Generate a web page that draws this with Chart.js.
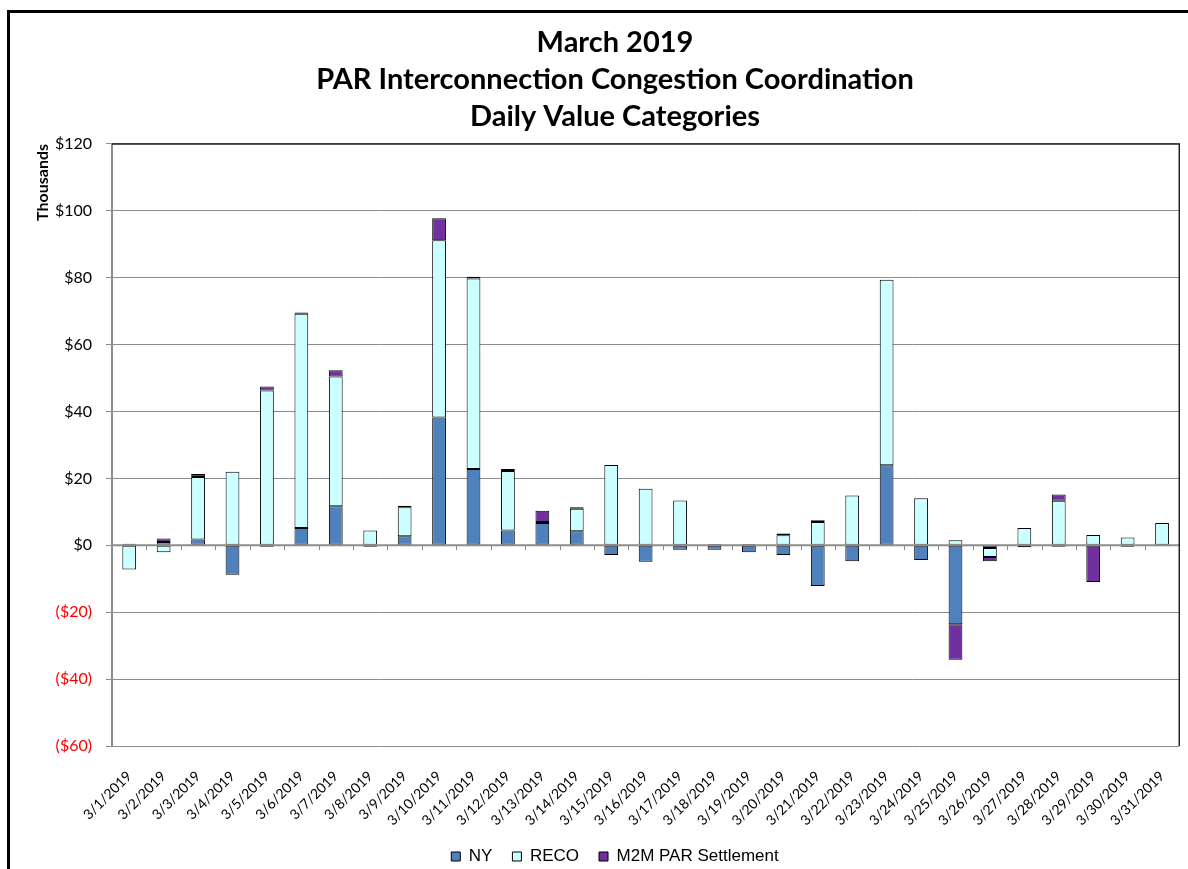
<!DOCTYPE html>
<html>
<head>
<meta charset="utf-8">
<script src="https://cdn.jsdelivr.net/npm/chart.js@4/dist/chart.umd.min.js"></script>
<style>
  html, body { margin: 0; padding: 0; background: #fff; overflow: hidden; }
  #frame { position: absolute; left: 7px; top: 10px; width: 1300px; height: 1000px; border: 3px solid #000; }
  #wrap { position: absolute; left: 0; top: 0; width: 1188px; height: 869px; }
</style>
</head>
<body>
<div id="frame"></div>
<div id="wrap"><canvas id="chart"></canvas></div>
<script>
// Valeurs journalières (en milliers de $)
const days = ['3/1/2019', '3/2/2019', '3/3/2019', '3/4/2019', '3/5/2019', '3/6/2019', '3/7/2019', '3/8/2019',
  '3/9/2019', '3/10/2019', '3/11/2019', '3/12/2019', '3/13/2019', '3/14/2019', '3/15/2019', '3/16/2019',
  '3/17/2019', '3/18/2019', '3/19/2019', '3/20/2019', '3/21/2019', '3/22/2019', '3/23/2019', '3/24/2019',
  '3/25/2019', '3/26/2019', '3/27/2019', '3/28/2019', '3/29/2019', '3/30/2019', '3/31/2019'];

const nyValues = [0.5, 1.0, 1.7, -8.8, -0.4, 5.2, 11.7, -0.4, 2.7, 38.2, 22.8, 4.4, 6.7, 4.2, -2.9, -4.9,
  -1.3, -1.3, -2.1, -2.9, -12.2, -4.8, 23.9, -4.4, -23.6, -0.8, -0.6, -0.4, null, -0.4, null];

const recoValues = [-7.2, -2.1, 18.7, 22.0, 46.3, 64.0, 38.8, 4.4, 8.7, 53.0, 57.0, 17.8, 0.3, 6.7, 24.0, 16.9,
  13.4, 0.4, 0.4, 3.0, 7.0, 14.9, 55.5, 14.1, 1.5, -2.7, 5.2, 13.3, 3.1, 2.3, 6.7];

const m2mValues = [null, 1.0, 0.9, null, 1.2, 0.4, 1.8, null, 0.4, 6.6, 0.5, 0.6, 3.3, 0.5, null, null,
  null, null, null, 0.5, 0.5, null, null, null, -10.6, -1.3, null, 1.9, -11.0, null, null];

const seriesNames = ['NY', 'RECO', 'M2M PAR Settlement'];
const yMin = -60, yMax = 120, yStep = 20;

// Format des montants : négatifs entre parenthèses
function formatMoney(v) {
  return v < 0 ? '($' + (-v) + ')' : '$' + v;
}

// Cadre du graphique, ligne du zéro et petites graduations
const plotFrame = {
  id: 'plotFrame',
  afterDatasetsDraw(chart) {
    const { ctx, chartArea: a, scales } = chart;
    const y0 = scales.y.getPixelForValue(0);
    ctx.save();
    ctx.strokeStyle = '#8c8c8c';
    ctx.lineWidth = 2;
    ctx.beginPath();
    ctx.moveTo(a.left, y0);
    ctx.lineTo(a.right, y0);
    ctx.stroke();
    ctx.lineWidth = 1;
    const n = days.length;
    const step = (scales.x.getPixelForValue(1) - scales.x.getPixelForValue(0));
    for (let i = 1; i < n; i++) {
      const x = Math.round(scales.x.getPixelForValue(i) - step / 2) + 0.5;
      ctx.beginPath();
      ctx.moveTo(x, y0);
      ctx.lineTo(x, y0 + 5);
      ctx.stroke();
    }
    ctx.strokeStyle = '#222';
    ctx.lineWidth = 1.5;
    ctx.beginPath();
    ctx.moveTo(a.left, a.top);
    ctx.lineTo(a.right, a.top);
    ctx.lineTo(a.right, a.bottom);
    ctx.stroke();
    ctx.restore();
  }
};

const ctx = document.getElementById('chart').getContext('2d');
new Chart(ctx, {
  type: 'bar',
  data: {
    labels: days,
    datasets: [
      { label: seriesNames[0], data: nyValues, backgroundColor: '#4f81bd' },
      { label: seriesNames[1], data: recoValues, backgroundColor: '#ccffff' },
      { label: seriesNames[2], data: m2mValues, backgroundColor: '#7030a0' }
    ].map(d => Object.assign(d, {
      borderColor: '#000',
      borderWidth: 1,
      borderSkipped: false,
      barPercentage: 0.4,
      categoryPercentage: 1.0
    }))
  },
  options: {
    responsive: true,
    maintainAspectRatio: false,
    animation: false,
    // marge gauche pour décaler le titre comme dans l'original
    layout: { padding: { left: 46, right: 4, top: 0, bottom: -6 } },
    plugins: {
      title: {
        display: true,
        text: ['March 2019', 'PAR Interconnection Congestion Coordination', 'Daily Value Categories'],
        color: '#000',
        font: { family: 'Lato', size: 29, weight: 'bold', lineHeight: 1.275 },
        padding: { top: 24, bottom: 9 }
      },
      legend: {
        position: 'bottom',
        labels: {
          color: '#000',
          font: { family: 'Liberation Sans', size: 17 },
          boxWidth: 9,
          boxHeight: 9,
          padding: 20
        }
      },
      tooltip: { enabled: false }
    },
    scales: {
      x: {
        stacked: true,
        grid: { display: false },
        border: { display: false },
        ticks: {
          color: '#000',
          font: { family: 'Lato', size: 14 },
          maxRotation: 45,
          minRotation: 45,
          autoSkip: false,
          padding: 14
        },
        afterFit(scale) { scale.height = 82; }
      },
      y: {
        stacked: true,
        min: yMin,
        max: yMax,
        grid: { color: '#8c8c8c', tickLength: 6 },
        border: { color: '#8c8c8c', width: 2 },
        ticks: {
          stepSize: yStep,
          padding: 14,
          font: { family: 'Lato', size: 16 },
          color: c => (c.tick && c.tick.value < 0 ? '#ff0000' : '#000'),
          callback: v => formatMoney(v)
        },
        title: {
          display: true,
          text: 'Thousands',
          align: 'end',
          color: '#000',
          font: { family: 'Lato', size: 16, weight: 'bold' },
          padding: { top: -13, bottom: 0 }
        },
        afterFit(scale) { scale.width = 66; }
      }
    }
  },
  plugins: [plotFrame]
});
</script>
</body>
</html>
